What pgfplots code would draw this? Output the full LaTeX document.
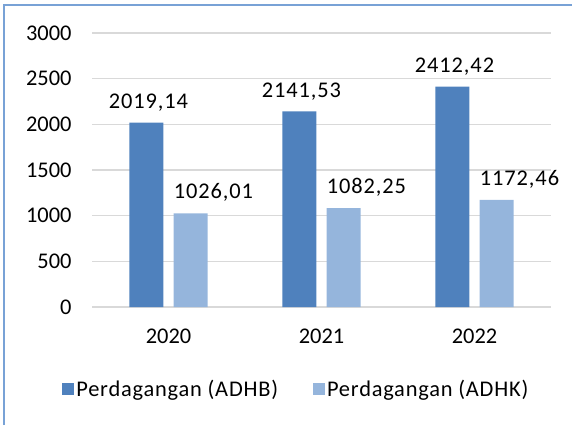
\documentclass[border=0pt]{standalone}
\usepackage{fontspec}
\setmainfont{Carlito}
\usepackage{pgfplots}
\pgfplotsset{compat=1.18}
\definecolor{adhb}{RGB}{79,129,189}
\definecolor{adhk}{RGB}{149,181,220}
\definecolor{framecol}{RGB}{120,162,214}
\definecolor{gridgray}{RGB}{217,217,217}

\begin{document}
\begin{tikzpicture}[x=1bp,y=1bp]
\useasboundingbox (0,0) rectangle (572,425);
\draw[framecol, line width=1.5bp] (4,0) -- (4,420) -- (572,420);
\begin{axis}[
  at={(92bp,118bp)}, anchor=south west,
  scale only axis, width=459bp, height=274bp,
  xmin=-0.5, xmax=2.5, ymin=0, ymax=3000,
  ytick={0,500,...,3000},
  xtick={0,1,2}, xticklabels={2020,2021,2022},
  axis line style={draw=none},
  major tick length=0pt,
  ymajorgrids, grid style={gridgray, line width=1.2bp},
  /pgf/number format/assume math mode=true,
  /pgf/number format/1000 sep={},
  tick label style={font=\fontsize{22.5}{27}\selectfont},
  yticklabel style={xshift=-17bp},
  xticklabel style={yshift=-18bp},
  legend image code/.code={\fill[#1] (0bp,-6bp) rectangle (12bp,6bp);},
  legend style={at={(axis description cs:-0.065,-0.299)}, anchor=west,
    draw=none, fill=none, inner sep=0pt, legend columns=2,
    font=\fontsize{22.5}{27}\selectfont\addfontfeature{LetterSpace=3.5},
    /tikz/every even column/.append style={column sep=33bp}},
  legend cell align=left,
]
\addplot[ybar, bar width=0.222, bar shift=-0.144, fill=adhb, draw=none,
  nodes near coords={\pgfmathprintnumber[use comma,fixed,fixed zerofill,precision=2,1000 sep={}]{\pgfplotspointmeta}},
  every node near coord/.style={font=\fontsize{22.5}{27}\selectfont\addfontfeature{LetterSpace=4},
    anchor=south, xshift=-20bp, yshift=8bp}]
  coordinates {(0,2019.14) (1,2141.53) (2,2412.42)};
\addplot[ybar, bar width=0.222, bar shift=0.144, fill=adhk, draw=none,
  nodes near coords={\pgfmathprintnumber[use comma,fixed,fixed zerofill,precision=2,1000 sep={}]{\pgfplotspointmeta}},
  every node near coord/.style={font=\fontsize{22.5}{27}\selectfont\addfontfeature{LetterSpace=4},
    anchor=south, xshift=45bp, yshift=8bp}]
  coordinates {(0,1026.01) (1,1082.25) (2,1172.46)};
\legend{Perdagangan (ADHB), Perdagangan (ADHK)}
\end{axis}
\end{tikzpicture}
\end{document}
